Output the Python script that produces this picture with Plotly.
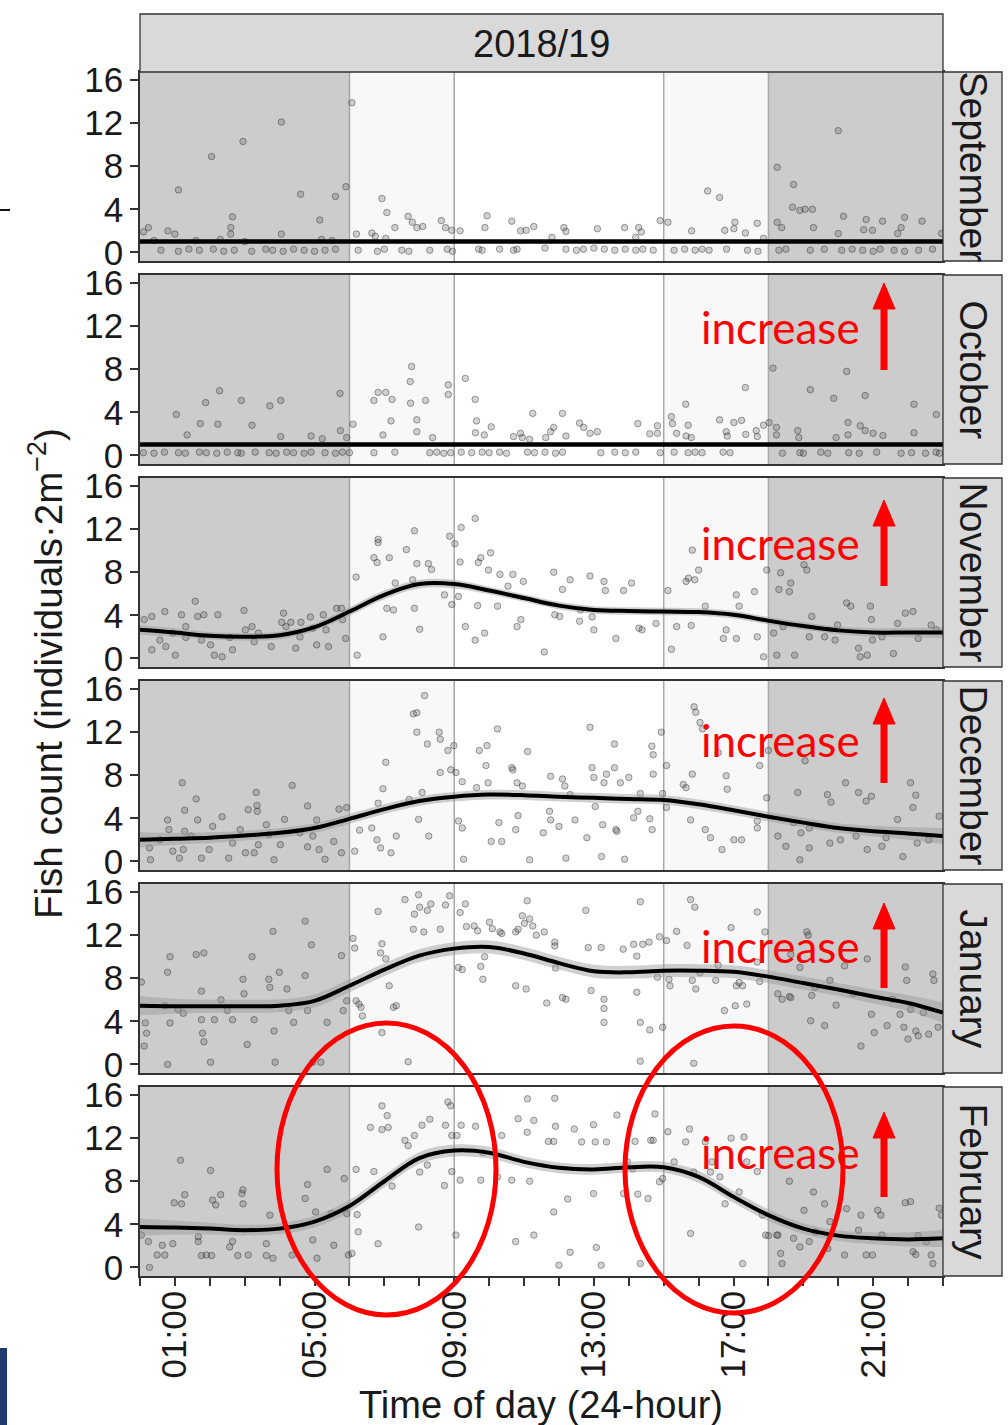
import plotly.graph_objects as go

# ---------------- data ----------------
months = ["September", "October", "November", "December", "January", "February"]
facet_title = "2018/19"
hours = list(range(24))
x_tick_vals = [1, 5, 9, 13, 17, 21]
x_tick_labels = ["01:00", "05:00", "09:00", "13:00", "17:00", "21:00"]
y_tick_vals = [0, 4, 8, 12, 16]

# fitted smooth (value at each hour 0..23)
smooth_sep = [1.0] * 24
smooth_oct = [1.0] * 24
smooth_nov = [2.65, 2.4, 2.1, 2.0, 2.15, 2.9, 4.35, 5.9, 6.9, 6.9, 6.3, 5.6, 4.9, 4.5, 4.4, 4.35, 4.3, 4.05, 3.5, 3.0, 2.6, 2.4, 2.4, 2.4]
smooth_dec = [2.0, 2.1, 2.2, 2.4, 2.65, 3.1, 3.95, 4.85, 5.6, 6.0, 6.2, 6.15, 6.0, 5.9, 5.8, 5.7, 5.3, 4.75, 4.15, 3.6, 3.1, 2.8, 2.6, 2.35]
smooth_jan = [5.45, 5.4, 5.4, 5.4, 5.45, 5.9, 7.3, 8.8, 10.1, 10.75, 10.9, 10.3, 9.4, 8.65, 8.55, 8.7, 8.7, 8.6, 8.15, 7.55, 6.95, 6.3, 5.7, 4.8]
smooth_feb = [3.75, 3.7, 3.6, 3.45, 3.6, 4.25, 5.7, 8.0, 10.15, 10.85, 10.65, 9.8, 9.25, 9.1, 9.3, 9.3, 8.4, 6.55, 4.85, 3.6, 2.95, 2.7, 2.6, 2.7]

# half-width of the confidence band at each hour
band_sep = [0.12] * 24
band_oct = [0.12] * 24
band_nov = [0.45, 0.4, 0.35, 0.35, 0.35, 0.35, 0.4, 0.4, 0.4, 0.4, 0.35, 0.35, 0.35, 0.35, 0.35, 0.35, 0.35, 0.35, 0.35, 0.35, 0.35, 0.4, 0.45, 0.5]
band_dec = [0.7, 0.55, 0.5, 0.45, 0.45, 0.45, 0.45, 0.45, 0.45, 0.45, 0.45, 0.45, 0.45, 0.45, 0.45, 0.45, 0.45, 0.45, 0.45, 0.45, 0.45, 0.5, 0.6, 0.75]
band_jan = [0.9, 0.7, 0.6, 0.6, 0.6, 0.6, 0.6, 0.6, 0.6, 0.6, 0.6, 0.6, 0.6, 0.6, 0.6, 0.6, 0.6, 0.6, 0.6, 0.6, 0.6, 0.65, 0.75, 0.95]
band_feb = [0.8, 0.65, 0.55, 0.5, 0.5, 0.55, 0.55, 0.55, 0.55, 0.55, 0.55, 0.5, 0.5, 0.5, 0.5, 0.5, 0.55, 0.55, 0.55, 0.5, 0.5, 0.55, 0.65, 0.8]

# observations (hour, count)
pts_sep = [
    (0.1, 1.9), (0.24, 2.3), (0.8, 2.0), (1.0, 1.7), (1.1, 5.8), (2.05, 8.9), (2.65, 3.3), (2.6, 2.3), (2.6, 1.7), (2.95, 10.3),
    (4.05, 12.1), (4.05, 1.7), (4.6, 5.4), (5.15, 3.0), (5.6, 5.2), (5.9, 6.1),
    (0.6, 0.2), (1.1, 0.1), (1.4, 0.3), (1.7, 0.2), (2.1, 0.3), (2.4, 0.1), (2.7, 0.2), (3.2, 0.1), (3.6, 0.3), (3.8, 0.2),
    (4.1, 0.1), (4.4, 0.3), (4.7, 0.2), (5.0, 0.1), (5.3, 0.2), (5.6, 0.3),
    (0.4, 1.1), (1.6, 1.1), (2.3, 1.2), (3.0, 1.0), (5.2, 1.2), (5.5, 1.1),
    (6.07, 13.9), (6.93, 5.0), (7.07, 3.7), (7.68, 3.35), (7.8, 2.8), (7.93, 2.3), (8.1, 2.4), (8.63, 2.95), (8.75, 2.3), (7.3, 2.3),
    (6.64, 1.8), (6.2, 1.7), (6.74, 1.5), (7.04, 1.3),
    (6.25, 0.2), (6.8, 0.1), (7.0, 0.3), (7.5, 0.2), (7.7, 0.1), (8.3, 0.2), (8.8, 0.3), (8.95, 0.1),
    (9.17, 2.0), (8.93, 2.05), (9.94, 3.4), (9.88, 2.3), (10.65, 2.9), (10.9, 2.0), (11.06, 2.05), (11.28, 2.4), (12.14, 2.3), (12.2, 1.95),
    (13.1, 2.2), (13.88, 2.3), (14.28, 2.3), (14.36, 1.9), (14.9, 2.95), (15.12, 2.8), (11.8, 1.4), (14.2, 1.4),
    (9.7, 0.3), (9.8, 0.2), (10.3, 0.3), (10.7, 0.2), (10.8, 0.3), (11.6, 0.4), (12.2, 0.3), (12.5, 0.2), (12.7, 0.3), (13.0, 0.4),
    (13.3, 0.3), (13.6, 0.2), (13.9, 0.3), (14.2, 0.2), (14.4, 0.3), (14.7, 0.2),
    (16.26, 5.7), (16.6, 5.1), (15.8, 2.0), (16.75, 2.05), (17.04, 2.8), (17.01, 2.2), (17.34, 1.8), (17.68, 2.7), (17.86, 1.3),
    (15.3, 0.2), (15.6, 0.3), (15.9, 0.2), (16.1, 0.3), (16.3, 0.2), (16.8, 0.3), (17.4, 0.2), (17.7, 0.1),
    (18.25, 7.9), (18.72, 6.3), (18.69, 4.2), (18.9, 3.9), (19.05, 4.0), (19.26, 4.0), (20.0, 11.3), (18.25, 2.8), (18.38, 2.3), (19.29, 2.3),
    (20.15, 3.35), (20.0, 1.75), (20.8, 3.05), (20.73, 2.1), (20.98, 2.05), (21.27, 2.9), (21.9, 3.25), (21.8, 2.3), (21.7, 1.75), (22.4, 2.9), (22.96, 1.75),
    (18.3, 0.2), (18.5, 0.3), (19.2, 0.2), (19.6, 0.3), (20.1, 0.2), (20.4, 0.3), (20.7, 0.2), (21.0, 0.1), (21.2, 0.3), (21.6, 0.2),
    (21.9, 0.1), (22.3, 0.2), (22.7, 0.3),
]
pts_oct = [
    (1.04, 3.8), (1.35, 1.9), (1.73, 2.95), (1.88, 4.9), (2.23, 2.9), (2.28, 6.0), (2.9, 5.1), (3.21, 2.8), (3.72, 4.6), (4.03, 5.1),
    (4.03, 1.75), (4.9, 1.8), (5.22, 1.55), (5.73, 5.75), (5.74, 2.3), (5.92, 1.65),
    (0.1, 0.25), (0.4, 0.2), (0.7, 0.3), (1.1, 0.25), (1.3, 0.2), (1.7, 0.3), (1.9, 0.25), (2.2, 0.2), (2.5, 0.3), (2.8, 0.25),
    (2.9, 0.2), (3.3, 0.3), (3.7, 0.25), (3.9, 0.2), (4.2, 0.3), (4.4, 0.25), (4.7, 0.2), (4.9, 0.3), (5.3, 0.25), (5.6, 0.2), (5.8, 0.3), (6.0, 0.25),
    (6.1, 2.9), (6.7, 5.1), (6.82, 5.85), (7.04, 5.85), (7.22, 5.2), (7.19, 3.2), (6.96, 1.9), (7.78, 8.25), (7.74, 6.85), (7.75, 4.85),
    (7.93, 3.3), (7.93, 2.2), (8.18, 5.1), (8.38, 1.65), (8.83, 6.55), (8.83, 5.65),
    (6.7, 0.25), (7.3, 0.3), (8.3, 0.25), (8.5, 0.3), (8.7, 0.2), (8.9, 0.25),
    (9.32, 7.15), (9.6, 5.2), (9.64, 3.2), (9.61, 2.1), (9.86, 1.9), (10.06, 2.65), (10.7, 1.75), (10.9, 2.05), (10.95, 1.65), (11.16, 1.5),
    (11.25, 3.9), (11.62, 1.65), (11.76, 2.2), (11.85, 2.6), (12.1, 3.9), (12.2, 1.8), (12.59, 3.0), (12.71, 2.6), (12.89, 2.05), (13.1, 2.2),
    (14.26, 2.95), (14.6, 2.0), (14.82, 2.75), (14.82, 2.05),
    (9.2, 0.3), (9.5, 0.25), (9.8, 0.3), (10.0, 0.25), (10.3, 0.3), (10.5, 0.2), (11.1, 0.3), (11.3, 0.25), (11.6, 0.3), (11.9, 0.2),
    (12.1, 0.3), (13.2, 0.25), (13.6, 0.3), (13.9, 0.25), (14.2, 0.3), (14.9, 0.25),
    (15.22, 3.6), (15.25, 2.95), (15.37, 2.05), (15.63, 4.75), (15.7, 2.8), (15.64, 1.8), (15.79, 1.65), (16.6, 3.3), (16.79, 2.2), (16.82, 1.8),
    (17.01, 3.05), (17.23, 3.25), (17.34, 6.3), (17.35, 1.95), (17.65, 2.3), (17.68, 1.75), (17.86, 2.8), (18.02, 3.05),
    (15.3, 0.3), (15.7, 0.25), (15.9, 0.3), (16.1, 0.25), (16.7, 0.3), (16.9, 0.25),
    (18.13, 8.1), (18.23, 2.6), (18.23, 1.9), (18.84, 2.3), (18.87, 1.65), (19.2, 6.1), (19.87, 5.3), (19.94, 1.65), (20.24, 7.8), (20.28, 3.05),
    (20.28, 1.9), (20.63, 2.75), (20.77, 5.55), (20.77, 2.3), (21.0, 2.05), (21.28, 1.85), (22.17, 4.75), (22.17, 2.1), (22.81, 3.8),
    (18.4, 0.2), (18.9, 0.25), (19.0, 0.2), (19.5, 0.3), (19.7, 0.2), (20.3, 0.25), (20.6, 0.2), (21.1, 0.3), (21.8, 0.2), (22.1, 0.25),
    (22.5, 0.2), (22.8, 0.3), (22.9, 0.2),
]
pts_nov = [
    (0.12, 3.6), (0.34, 3.9), (0.34, 0.8), (0.71, 4.35), (0.74, 1.1), (1.01, 0.3), (1.19, 4.05), (1.31, 1.95), (1.31, 2.95), (1.58, 5.3),
    (1.65, 3.9), (1.83, 4.05), (2.02, 1.25), (2.13, 0.3), (2.23, 4.05), (2.35, 0.15), (2.57, 1.95), (2.65, 0.8), (2.98, 4.45), (3.02, 2.65),
    (3.21, 2.95), (3.27, 1.55), (3.76, 1.1), (4.11, 4.2), (4.06, 3.35), (4.18, 2.95), (4.32, 3.35), (4.46, 0.95), (4.61, 3.35), (4.88, 3.85),
    (4.95, 2.8), (5.06, 1.25), (5.25, 4.05), (5.4, 1.1), (5.63, 4.65), (5.77, 4.65), (5.8, 3.6), (5.89, 1.85), (0.57, 1.7), (0.94, 2.35),
    (1.76, 1.7), (3.39, 2.35), (4.58, 2.0), (5.33, 2.65),
    (6.19, 7.55), (6.22, 0.3), (6.7, 9.35), (6.79, 8.9), (6.82, 11.05), (6.82, 10.75), (6.96, 2.0), (7.07, 4.65), (7.14, 9.35), (7.26, 4.5),
    (7.31, 7.0), (7.63, 10.1), (7.81, 7.3), (7.86, 4.65), (7.86, 11.85), (7.93, 8.8), (8.01, 2.7), (8.26, 8.8), (8.35, 8.25), (8.72, 5.9),
    (8.87, 11.35), (8.93, 5.0), (9.02, 10.65),
    (9.12, 5.75), (9.17, 8.95), (9.2, 12.15), (9.32, 2.95), (9.6, 13.0), (9.6, 1.7), (9.67, 4.9), (9.69, 8.9), (9.76, 9.35), (9.87, 2.35),
    (10.04, 9.8), (9.98, 8.2), (10.31, 7.8), (10.54, 6.7), (10.68, 7.8), (10.8, 2.95), (10.91, 3.6), (10.98, 7.15), (11.58, 0.6), (11.85, 8.0),
    (11.88, 4.05), (12.02, 3.9), (12.1, 6.4), (12.32, 7.3), (12.59, 3.45), (12.89, 7.65), (12.95, 3.85), (13.0, 2.65), (13.29, 7.15), (13.33, 6.3),
    (13.63, 1.85), (13.85, 6.3), (14.08, 7.0), (14.29, 2.8), (14.38, 2.65), (14.78, 3.25), (12.62, 4.5), (10.24, 4.85),
    (15.12, 6.3), (15.22, 0.85), (15.37, 2.95), (15.64, 7.15), (15.71, 7.45), (15.79, 3.05), (15.82, 10.05), (16.0, 8.2), (15.89, 7.3), (16.19, 4.85),
    (16.71, 1.85), (16.79, 2.65), (17.08, 5.9), (17.08, 1.85), (17.6, 6.2), (17.68, 2.0), (17.86, 0.15), (17.16, 4.85),
    (17.95, 8.2), (18.15, 2.35), (18.24, 0.3), (18.3, 6.4), (18.35, 7.95), (18.6, 6.2), (18.64, 7.0), (18.75, 0.3), (19.02, 8.7), (19.1, 8.2),
    (19.17, 2.0), (19.24, 3.9), (19.61, 2.0), (19.98, 3.1), (20.24, 5.15), (20.36, 4.85), (20.58, 0.95), (20.63, 0.15), (20.83, 0.3), (20.92, 4.85),
    (20.95, 3.6), (20.98, 1.7), (21.58, 0.45), (21.7, 3.25), (21.92, 4.2), (22.14, 4.35), (22.29, 1.85), (22.66, 3.1), (22.81, 2.65), (18.42, 2.95),
    (19.91, 1.7), (21.25, 2.0),
]
pts_dec = [
    (0.27, 1.25), (0.3, 0.15), (0.79, 3.85), (0.83, 2.95), (0.94, 0.95), (1.13, 0.3), (1.21, 7.3), (1.28, 4.75), (1.28, 2.8), (1.24, 1.1),
    (1.61, 5.8), (1.65, 3.85), (1.76, 0.3), (1.98, 1.1), (2.08, 3.25), (2.35, 4.15), (2.54, 0.3), (2.65, 1.7), (2.87, 2.95), (3.1, 4.8),
    (3.02, 0.8), (3.27, 0.8), (3.33, 6.4), (3.35, 5.2), (3.36, 4.65), (3.39, 1.55), (3.62, 3.4), (3.84, 0.15), (4.02, 1.55), (4.14, 3.9),
    (4.36, 7.05), (4.8, 5.15), (4.8, 1.35), (4.95, 2.35), (5.06, 3.85), (5.13, 1.1), (5.3, 0.2), (5.55, 1.85), (5.7, 4.85), (5.77, 0.8),
    (5.92, 5.0), (0.57, 2.0), (1.46, 2.35), (3.69, 2.5), (4.58, 2.65),
    (6.15, 0.95), (6.29, 2.9), (6.64, 3.1), (6.79, 2.0), (6.82, 5.4), (6.89, 1.25), (7.04, 9.2), (6.96, 6.75), (7.19, 0.8), (7.34, 2.35),
    (7.71, 5.75), (7.83, 13.7), (7.93, 13.8), (7.93, 12.0), (7.98, 3.9), (8.08, 6.4), (8.15, 15.4), (8.23, 10.9), (8.27, 2.35), (8.57, 12.0),
    (8.6, 11.35), (8.6, 8.25), (8.82, 10.3), (8.9, 8.5),
    (8.99, 10.75), (9.05, 8.25), (9.12, 3.75), (9.23, 3.1), (9.23, 7.4), (9.27, 0.2), (9.64, 6.85), (9.72, 10.3), (9.94, 10.75), (9.91, 8.9),
    (9.97, 7.3), (10.06, 1.85), (10.24, 12.3), (10.28, 3.6), (10.36, 1.85), (10.65, 8.7), (10.68, 8.5), (10.76, 2.95), (10.8, 7.3), (10.83, 4.25),
    (10.95, 7.0), (11.1, 10.2), (11.16, 0.15), (11.55, 2.65), (11.73, 4.65), (11.76, 7.9), (11.76, 3.85), (12.0, 3.25), (12.1, 7.65), (12.2, 0.3),
    (12.17, 7.0), (12.32, 6.2), (12.46, 3.85), (12.8, 2.2), (12.89, 12.45), (12.95, 8.7), (13.0, 7.8), (13.04, 5.1), (13.22, 0.45), (13.25, 3.4),
    (13.29, 7.3), (13.36, 8.1), (13.59, 10.9), (13.59, 8.7), (13.63, 2.95), (13.66, 2.8), (13.76, 7.3), (13.88, 0.2), (14.0, 7.8), (14.14, 4.05),
    (14.26, 4.65), (14.33, 6.3), (14.6, 3.95), (14.66, 10.7), (14.7, 9.9), (14.7, 8.1), (14.93, 12.0), (14.67, 2.95),
    (14.97, 6.3), (15.08, 8.9), (15.08, 5.0), (15.56, 7.15), (15.64, 6.85), (15.77, 3.85), (15.82, 8.1), (15.87, 14.35), (15.92, 13.85), (16.04, 12.9),
    (16.11, 12.3), (16.19, 2.95), (16.34, 2.2), (16.67, 1.1), (16.79, 7.95), (16.82, 6.7), (17.01, 2.0), (17.23, 2.0), (17.68, 3.1), (17.75, 8.9),
    (17.68, 3.75), (16.56, 10.1),
    (18.0, 10.3), (17.95, 5.9), (18.27, 2.35), (18.5, 1.4), (18.72, 3.6), (18.84, 6.4), (18.9, 0.15), (18.93, 2.65), (19.05, 9.35), (19.17, 3.1),
    (19.17, 1.25), (19.69, 6.2), (19.79, 5.5), (19.76, 1.7), (20.21, 7.3), (20.58, 6.4), (20.8, 5.6), (20.83, 1.1), (20.95, 6.05), (21.25, 1.4),
    (21.37, 2.2), (21.7, 3.9), (21.85, 0.45), (22.07, 7.3), (22.14, 5.0), (22.22, 6.15), (22.26, 1.7), (22.59, 2.0), (22.89, 4.2), (20.06, 2.0),
    (20.51, 2.35),
]
pts_jan = [
    (0.04, 7.65), (0.15, 3.85), (0.19, 2.9), (0.71, 5.45), (0.79, 8.55), (0.86, 10.0), (0.86, 3.85), (0.79, 0.0), (1.24, 4.75), (1.61, 10.2),
    (1.76, 6.8), (1.76, 4.15), (1.79, 2.9), (1.83, 10.35), (1.83, 2.1), (2.02, 0.2), (2.13, 4.15), (2.32, 6.0), (2.65, 4.15), (2.95, 7.9),
    (2.98, 6.55), (3.07, 1.85), (3.21, 10.0), (3.27, 4.15), (3.69, 7.9), (3.72, 7.15), (3.81, 12.35), (3.84, 3.1), (3.87, 0.2), (3.99, 8.55),
    (4.21, 7.0), (4.26, 5.0), (4.4, 3.9), (4.73, 8.25), (4.73, 13.3), (4.8, 5.0), (4.91, 11.1), (4.95, 0.2), (5.18, 0.2), (5.36, 3.9),
    (5.77, 10.1), (5.82, 5.0), (5.92, 5.9), (0.12, 1.7), (1.09, 5.1), (2.5, 5.0),
    (6.1, 11.7), (6.15, 10.8), (6.19, 5.9), (6.27, 5.6), (6.33, 5.3), (6.37, 4.5), (6.82, 14.2), (6.89, 10.35), (6.93, 11.2), (6.93, 2.95),
    (7.04, 9.8), (7.14, 7.3), (7.26, 5.3), (7.34, 5.45), (7.59, 15.3), (7.68, 0.25), (7.83, 12.55), (7.86, 13.95), (7.98, 15.75), (8.01, 14.6),
    (8.13, 12.3), (8.23, 14.3), (8.33, 14.9), (8.6, 12.55), (8.75, 14.8), (8.87, 15.65),
    (9.12, 9.0), (9.17, 14.1), (9.23, 8.8), (9.32, 14.9), (9.35, 12.8), (9.57, 12.85), (9.67, 12.4), (9.76, 9.1), (9.82, 7.9), (9.87, 10.0),
    (10.01, 13.2), (10.09, 12.6), (10.31, 12.3), (10.36, 12.15), (10.76, 12.3), (10.76, 7.3), (10.83, 12.55), (10.95, 13.8), (11.01, 13.1), (11.06, 7.0),
    (11.09, 15.2), (11.16, 13.5), (11.25, 12.85), (11.35, 12.0), (11.58, 12.3), (11.65, 5.7), (11.88, 11.35), (11.88, 11.0), (11.9, 8.95), (12.1, 6.2),
    (12.2, 6.05), (12.77, 14.3), (12.84, 10.85), (12.92, 6.85), (13.21, 10.85), (13.29, 6.05), (13.29, 5.2), (13.29, 3.9), (13.84, 10.7), (14.14, 11.15),
    (14.23, 10.05), (14.23, 6.7), (14.33, 15.1), (14.33, 3.9), (14.33, 0.3), (14.4, 11.15), (14.58, 11.35), (14.6, 3.2), (14.82, 8.1), (14.88, 11.85),
    (14.97, 3.45),
    (15.08, 11.5), (15.15, 7.9), (15.18, 7.3), (15.37, 12.35), (15.67, 11.05), (15.77, 15.3), (15.82, 7.8), (15.86, 0.1), (15.89, 14.6), (15.92, 7.0),
    (16.04, 8.5), (16.49, 7.8), (16.56, 9.2), (16.74, 5.0), (16.93, 12.7), (17.05, 5.45), (17.08, 7.3), (17.16, 7.6), (17.26, 7.3), (17.38, 5.6),
    (17.68, 14.15), (17.68, 9.5), (17.75, 7.7), (17.9, 12.3),
    (18.27, 6.55), (18.39, 6.05), (18.6, 6.3), (18.64, 6.2), (18.64, 10.2), (18.9, 9.0), (19.1, 12.3), (19.14, 12.0), (19.21, 4.05), (19.24, 6.4),
    (19.33, 7.15), (19.61, 3.6), (19.76, 7.8), (19.94, 5.5), (20.18, 9.15), (20.43, 6.55), (20.65, 1.7), (20.83, 9.8), (20.95, 4.65), (21.03, 2.95),
    (21.4, 3.6), (21.55, 6.05), (21.77, 4.65), (21.88, 3.45), (21.92, 9.05), (21.96, 7.8), (22.07, 5.1), (22.22, 3.1), (22.29, 2.65), (22.44, 4.8),
    (22.59, 2.8), (22.71, 8.4), (22.74, 7.8), (22.86, 3.45), (22.0, 2.35),
]
pts_feb = [
    (0.04, 3.0), (0.24, 2.4), (0.27, 0.0), (0.49, 1.15), (0.64, 2.05), (0.71, 1.15), (0.94, 2.2), (0.98, 6.0), (1.19, 5.9), (1.16, 9.95),
    (1.28, 6.75), (1.67, 2.85), (1.67, 2.4), (1.76, 1.1), (1.9, 1.15), (2.02, 9.0), (2.05, 1.1), (2.08, 6.25), (2.17, 5.8), (2.31, 6.75),
    (2.57, 1.9), (2.65, 2.4), (2.8, 1.1), (2.92, 6.85), (2.95, 7.2), (2.95, 5.9), (3.1, 1.15), (3.62, 1.1), (3.62, 2.2), (3.72, 4.85),
    (3.81, 0.85), (4.36, 1.15), (4.73, 6.4), (4.8, 7.7), (4.95, 2.55), (5.03, 5.15), (5.07, 0.85), (5.36, 9.1), (5.48, 5.0), (5.55, 2.05),
    (5.85, 8.25), (5.92, 5.0), (5.97, 1.15), (6.07, 1.3),
    (6.19, 9.1), (6.22, 4.9), (6.25, 3.3), (6.6, 13.0), (6.7, 8.9), (6.82, 2.2), (6.93, 15.0), (6.93, 12.8), (7.08, 14.1), (7.11, 13.0),
    (7.22, 7.55), (7.59, 11.8), (7.68, 11.3), (7.86, 12.25), (7.98, 3.75), (8.01, 8.85), (8.08, 13.2), (8.23, 9.5), (8.3, 13.75), (8.72, 7.6),
    (8.75, 13.2), (8.82, 15.35), (8.9, 15.0), (8.93, 12.25), (8.93, 8.9),
    (9.05, 3.0), (9.08, 12.25), (9.17, 8.1), (9.2, 13.2), (9.61, 13.1), (9.76, 8.1), (9.82, 10.65), (10.24, 8.4), (10.36, 12.25), (10.65, 8.1),
    (10.76, 2.4), (10.83, 13.8), (11.09, 12.55), (11.1, 15.65), (11.16, 8.0), (11.28, 3.0), (11.28, 13.65), (11.7, 11.7), (11.85, 11.7), (11.88, 15.7),
    (11.85, 5.15), (11.9, 13.1), (12.0, 0.2), (12.25, 6.35), (12.32, 1.4), (12.44, 12.85), (12.65, 11.65), (12.99, 6.85), (12.99, 13.25), (13.04, 11.65),
    (13.07, 1.85), (13.21, 0.2), (13.36, 11.65), (13.66, 14.15), (13.85, 6.85), (13.96, 9.8), (14.11, 9.15), (14.18, 11.7), (14.26, 6.8), (14.33, 0.35),
    (14.55, 6.4), (14.7, 11.8), (14.75, 14.25), (14.88, 7.95), (14.63, 11.8),
    (14.97, 8.25), (15.12, 12.6), (15.3, 9.8), (15.63, 11.65), (15.74, 12.85), (15.77, 3.15), (15.86, 8.85), (16.19, 11.65), (16.34, 8.85), (16.38, 9.8),
    (16.61, 8.4), (16.76, 5.9), (16.93, 12.0), (17.16, 7.0), (17.26, 0.35), (17.3, 12.1), (17.38, 9.8), (17.68, 8.9), (17.83, 4.85),
    (17.92, 3.0), (18.0, 2.95), (18.24, 3.0), (18.27, 3.0), (18.35, 1.3), (18.39, 0.35), (18.6, 8.0), (18.72, 2.7), (18.9, 1.9), (19.02, 5.3),
    (19.17, 2.4), (19.29, 7.0), (19.35, 3.3), (19.7, 1.75), (19.61, 5.9), (19.76, 4.25), (20.18, 1.15), (20.24, 5.45), (20.58, 3.45), (20.65, 4.85),
    (20.8, 1.15), (20.98, 1.15), (21.13, 5.3), (21.22, 4.85), (21.25, 3.0), (21.92, 6.0), (22.07, 6.1), (22.14, 1.45), (22.22, 1.2), (22.29, 2.95),
    (22.52, 2.4), (22.66, 1.15), (22.71, 0.35), (22.89, 5.5), (22.96, 4.85),
]

smooths = [smooth_sep, smooth_oct, smooth_nov, smooth_dec, smooth_jan, smooth_feb]
bands = [band_sep, band_oct, band_nov, band_dec, band_jan, band_feb]
points = [pts_sep, pts_oct, pts_nov, pts_dec, pts_jan, pts_feb]

# light periods (hours)
night_periods = [(0, 6), (18, 23)]
twilight_periods = [(6, 9), (15, 18)]
period_edges = [6, 9, 15, 18]
annot_text = "increase"

# ---------------- layout geometry (pixels) ----------------
W, H = 1008, 1425
PX_L, PX_R = 140, 943
panel_tops = [72, 275, 478, 681, 884, 1087]
PANEL_H = 189
FONT = "Liberation Sans, Arial, sans-serif"


def fx(p):
    return p / W


def fy(p):
    return 1 - p / H


fig = go.Figure()
shapes = []
annotations = []

for i in range(6):
    n = i + 1
    xa = "x" if n == 1 else f"x{n}"
    ya = "y" if n == 1 else f"y{n}"
    top, bot = panel_tops[i], panel_tops[i] + PANEL_H

    # points
    fig.add_trace(go.Scatter(
        x=[p[0] for p in points[i]], y=[p[1] for p in points[i]], mode="markers",
        marker=dict(size=6.5, color="rgba(80,80,80,0.25)",
                    line=dict(width=1, color="rgba(30,30,30,0.4)")),
        xaxis=xa, yaxis=ya, showlegend=False, hoverinfo="skip"))
    # band
    up = [s + b for s, b in zip(smooths[i], bands[i])]
    lo = [s - b for s, b in zip(smooths[i], bands[i])]
    fig.add_trace(go.Scatter(x=hours, y=up, mode="lines", line=dict(width=0, shape="spline"),
                             xaxis=xa, yaxis=ya, showlegend=False, hoverinfo="skip"))
    fig.add_trace(go.Scatter(x=hours, y=lo, mode="lines", line=dict(width=0, shape="spline"),
                             fill="tonexty", fillcolor="rgba(150,150,150,0.45)",
                             xaxis=xa, yaxis=ya, showlegend=False, hoverinfo="skip"))
    # smooth
    fig.add_trace(go.Scatter(x=hours, y=smooths[i], mode="lines",
                             line=dict(color="black", width=4.5 if i < 2 else 4, shape="spline"),
                             xaxis=xa, yaxis=ya, showlegend=False, hoverinfo="skip"))

    last = (i == 5)
    fig.layout[f"xaxis{'' if n == 1 else n}"] = dict(
        domain=[fx(PX_L), fx(PX_R)], range=[0, 23], anchor=ya, automargin=False,
        showgrid=False, zeroline=False, showline=True, mirror=True,
        linecolor="#333333", linewidth=1.6,
        tickmode="array", tickvals=x_tick_vals, ticktext=x_tick_labels,
        ticks="outside" if last else "", ticklen=8, tickwidth=1.6, tickcolor="#333333",
        minor=dict(tick0=0, dtick=1, ticks="outside" if last else "", ticklen=8,
                   tickwidth=1.6, tickcolor="#333333", showgrid=False),
        showticklabels=last, tickangle=-90, ticklabelstandoff=-9,
        tickfont=dict(family=FONT, size=35, color="#1a1a1a"))
    fig.layout[f"yaxis{'' if n == 1 else n}"] = dict(
        domain=[fy(bot), fy(top)], range=[-0.8, 16.75], anchor=xa, automargin=False,
        showgrid=False, zeroline=False, showline=True, mirror=True,
        linecolor="#333333", linewidth=1.6,
        tickmode="array", tickvals=y_tick_vals,
        ticks="outside", ticklen=8, tickwidth=1.6, tickcolor="#333333",
        tickfont=dict(family=FONT, size=35, color="#1a1a1a"))

    # background light periods
    for a, b in night_periods:
        shapes.append(dict(type="rect", xref=xa, yref=f"{ya} domain", x0=a, x1=b, y0=0, y1=1,
                           fillcolor="#cccccc", line=dict(width=0), layer="below"))
    for a, b in twilight_periods:
        shapes.append(dict(type="rect", xref=xa, yref=f"{ya} domain", x0=a, x1=b, y0=0, y1=1,
                           fillcolor="#f8f8f8", line=dict(width=0), layer="below"))
    for e in period_edges:
        shapes.append(dict(type="line", xref=xa, yref=f"{ya} domain", x0=e, x1=e, y0=0, y1=1,
                           line=dict(color="#a8a8a8", width=1.5), layer="below"))

    # right strip
    shapes.append(dict(type="rect", xref="paper", yref="paper", x0=fx(PX_R), x1=fx(1002),
                       y0=fy(bot), y1=fy(top), fillcolor="#d9d9d9",
                       line=dict(color="#333333", width=1.3)))
    annotations.append(dict(xref="paper", yref="paper", x=fx(973), y=fy((top + bot) / 2),
                            text=months[i], textangle=90, showarrow=False,
                            font=dict(family=FONT, size=39, color="#1a1a1a"),
                            xanchor="center", yanchor="middle"))

# top strip
shapes.append(dict(type="rect", xref="paper", yref="paper", x0=fx(PX_L), x1=fx(PX_R),
                   y0=fy(72), y1=fy(14), fillcolor="#d9d9d9", line=dict(color="#333333", width=1.3)))
annotations.append(dict(xref="paper", yref="paper", x=fx(541), y=fy(44), text=facet_title,
                        showarrow=False, font=dict(family=FONT, size=38, color="#1a1a1a"),
                        xanchor="center", yanchor="middle"))

# axis titles
annotations.append(dict(xref="paper", yref="paper", x=fx(541), y=fy(1405),
                        text="Time of day (24-hour)", showarrow=False,
                        font=dict(family=FONT, size=38, color="#1a1a1a"),
                        xanchor="center", yanchor="middle"))
annotations.append(dict(xref="paper", yref="paper", x=fx(46), y=fy(674),
                        text="Fish count (individuals·2m<sup>−2</sup>)", textangle=-90, showarrow=False,
                        font=dict(family=FONT, size=38.5, color="#1a1a1a"),
                        xanchor="center", yanchor="middle"))

# red "increase" labels and arrows (Oct..Feb)
text_y = [327, 543, 740, 946, 1152]
arrow_tip = [283, 500, 698, 903, 1112]
arrow_base = [370, 586, 783, 988, 1197]
AX = 884
for ty, tip, base in zip(text_y, arrow_tip, arrow_base):
    annotations.append(dict(xref="paper", yref="paper", x=fx(780), y=fy(ty), text=annot_text,
                            showarrow=False, font=dict(family="Lato, Open Sans, sans-serif", size=44, color="#ff0000"),
                            xanchor="center", yanchor="middle"))
    shapes.append(dict(type="line", xref="paper", yref="paper", x0=fx(AX), x1=fx(AX),
                       y0=fy(base), y1=fy(tip + 22), line=dict(color="#ff0000", width=7)))
    shapes.append(dict(type="path", xref="paper", yref="paper",
                       path=f"M {fx(AX - 11)},{fy(tip + 26)} L {fx(AX)},{fy(tip)} L {fx(AX + 11)},{fy(tip + 26)} Z",
                       fillcolor="#ff0000", line=dict(color="#ff0000", width=1)))

# red ellipses
for x0, x1, y0, y1 in [(277, 496, 1023, 1315), (625, 843, 1026, 1313)]:
    shapes.append(dict(type="circle", xref="paper", yref="paper", x0=fx(x0), x1=fx(x1),
                       y0=fy(y1), y1=fy(y0), line=dict(color="#ff0000", width=5)))

# small stray marks at the left edge of the picture
shapes.append(dict(type="line", xref="paper", yref="paper", x0=0, x1=fx(10), y0=fy(210), y1=fy(210),
                   line=dict(color="#111111", width=2)))
shapes.append(dict(type="rect", xref="paper", yref="paper", x0=0, x1=fx(7), y0=fy(1425), y1=fy(1348),
                   fillcolor="#1c3a6b", line=dict(width=0)))

fig.update_layout(width=W, height=H, margin=dict(l=0, r=0, t=0, b=0, pad=0, autoexpand=False),
                  paper_bgcolor="white", plot_bgcolor="white",
                  shapes=shapes, annotations=annotations, showlegend=False)

fig.write_html("out.html", config={"displayModeBar": False},
               post_script="document.body.style.margin='0';document.body.style.padding='0';"
                           "document.documentElement.style.overflow='hidden';")
